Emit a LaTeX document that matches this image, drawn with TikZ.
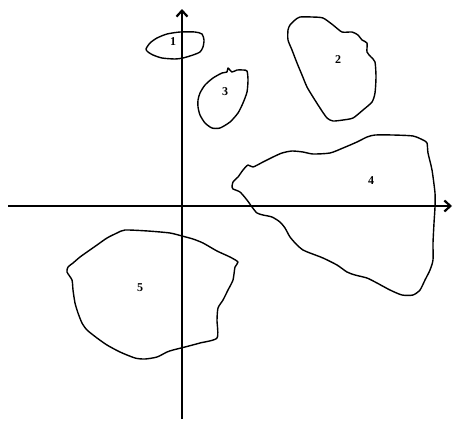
\documentclass[tikz,border=0pt]{standalone}
\usepackage{fontspec}
\setmainfont{Liberation Serif}
\usetikzlibrary{arrows.meta}
\begin{document}
\begin{tikzpicture}[x=1pt, y=-1pt, >={Straight Barb[length=6pt, width=11pt]},
  axis/.style={line width=2.2pt, ->},
  blob/.style={line width=1.4pt, line join=round},
  lbl/.style={font=\fontsize{12}{14}\selectfont\bfseries, inner sep=0pt}]
  \useasboundingbox[fill=white] (0,0) rectangle (454,421);
  % axes
  \coordinate (ybot) at (182,419);
  \coordinate (ytop) at (182,9);
  \coordinate (xlft) at (8,206);
  \coordinate (xrgt) at (452,206);
  \draw[axis] (xlft) -- (xrgt);
  \draw[axis] (ybot) -- (ytop);
  % region 1
  \draw[blob] plot[smooth cycle, tension=0.4] coordinates {
    (146,49) (150,43) (157,38) (167,34) (180,32) (195,32) (202,34)
    (204,40) (203,47) (200,52) (193,55) (183,58) (175,59) (162,58)
    (153,55) (148,52)};
  \node[lbl] (r1) at (173,42) {1};
  % region 2
  \draw[blob] plot[smooth cycle, tension=0.4] coordinates {
    (288,30) (290,25) (295,20) (300,17) (312,17) (323,18) (333,25)
    (342,32) (352,32) (358,35) (362,40) (367,43) (367,52) (371,57)
    (375,62) (376,77) (375,93) (372,102) (363,110) (353,118) (343,120)
    (333,121) (327,118) (320,108) (313,97) (307,87) (302,75) (297,63)
    (292,50) (288,40)};
  \node[lbl] (r2) at (338,60) {2};
  % region 3
  \draw[blob] plot[smooth cycle, tension=0.4] coordinates {
    (198,100) (200,93) (205,85) (213,78) (222,73) (227,72) (228,68)
    (232,72) (237,70) (243,70) (247,71) (248,80) (247,92) (243,103)
    (238,113) (230,122) (220,128) (212,128) (205,123) (200,115) (198,107)};
  \node[lbl] (r3) at (225,92) {3};
  % region 4
  \draw[blob] plot[smooth cycle, tension=0.4] coordinates {
    (232,187) (233,182) (238,177) (243,170) (248,165) (253,167) (263,162)
    (273,157) (282,153) (292,151) (303,152) (313,154) (330,153) (343,148)
    (357,142) (367,137) (375,135) (393,135) (413,136) (423,140) (427,143)
    (428,153) (432,170) (435,193) (435,207) (434,223) (433,243) (433,260)
    (430,270) (425,280) (420,290) (413,295) (402,295) (390,290) (377,283)
    (367,278) (355,275) (347,272) (337,265) (323,258) (310,253) (303,250)
    (297,245) (290,237) (285,228) (280,222) (272,217) (263,215) (257,213)
    (252,207) (247,200) (240,192) (233,189)};
  \node[lbl] (r4) at (371,181) {4};
  % region 5
  \draw[blob] plot[smooth cycle, tension=0.4] coordinates {
    (68,267) (73,263) (80,257) (87,252) (97,245) (107,238) (117,233)
    (125,230) (148,231) (170,233) (182,236) (193,239) (203,243) (217,251)
    (230,257) (238,262) (235,267) (233,280) (228,290) (223,300) (218,308)
    (217,320) (217,338) (200,343) (185,347) (173,350) (167,352) (157,357)
    (145,359) (135,358) (120,352) (107,345) (97,338) (87,330) (82,323)
    (78,313) (75,303) (73,290) (72,280) (67,272)};
  \node[lbl] (r5) at (140,288) {5};
\end{tikzpicture}
\end{document}
